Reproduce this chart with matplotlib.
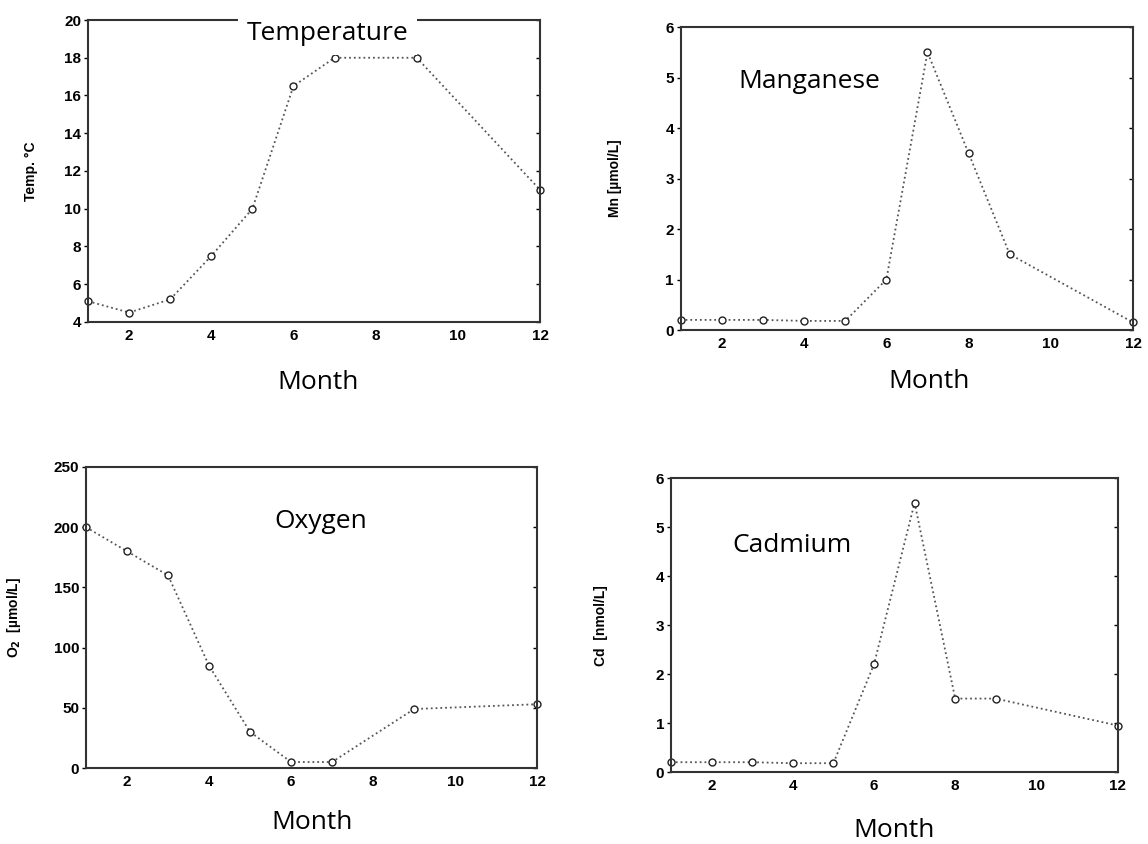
import matplotlib
matplotlib.use("Agg")
import matplotlib.pyplot as plt

# Data
temp_months = [1, 2, 3, 4, 5, 6, 7, 9, 12]
temp_values = [5.1, 4.5, 5.2, 7.5, 10.0, 16.5, 18.0, 18.0, 11.0]

mn_months = [1, 2, 3, 4, 5, 6, 7, 8, 9, 12]
mn_values = [0.2, 0.2, 0.2, 0.18, 0.18, 1.0, 5.5, 3.5, 1.5, 0.15]

o2_months = [1, 2, 3, 4, 5, 6, 7, 9, 12]
o2_values = [200, 180, 160, 85, 30, 5, 5, 49, 53]

cd_months = [1, 2, 3, 4, 5, 6, 7, 8, 9, 12]
cd_values = [0.2, 0.2, 0.2, 0.18, 0.18, 2.2, 5.5, 1.5, 1.5, 0.95]

x_ticks = [2, 4, 6, 8, 10, 12]

fig = plt.figure(figsize=(11.48, 8.44), dpi=100)
plt.rcParams['font.family'] = ['Liberation Sans', 'DejaVu Sans']

label_font = ['Open Sans', 'DejaVu Sans']


##
# One scanned-looking panel
##
def panel(rect, months, values, ylim, yticks, ylabel, ylabel_x, month_x=0.5, month_y=-0.2):
    ax = fig.add_axes(rect)
    ax.plot(months, values, linestyle=':', color='#555555', linewidth=1.3,
            marker='o', markersize=5, markerfacecolor='white',
            markeredgecolor='#222222', markeredgewidth=1.0, clip_on=False)
    ax.set_xlim(1, 12)
    ax.set_ylim(*ylim)
    ax.set_xticks(x_ticks)
    ax.set_yticks(yticks)
    ax.tick_params(axis='both', labelsize=11, width=1, length=3)
    ax.tick_params(axis='y', right=True, direction='out', pad=2)
    ax.tick_params(axis='x', direction='in', length=0, pad=5)
    for lab in ax.get_xticklabels() + ax.get_yticklabels():
        lab.set_fontweight('bold')
    for sp in ax.spines.values():
        sp.set_linewidth(1.5)
        sp.set_color('#333333')
    for t in ax.yaxis.get_major_ticks():
        t.tick2line.set_marker(matplotlib.lines.TICKLEFT)
    ax.set_ylabel(ylabel, fontsize=10, fontweight='bold')
    ax.yaxis.set_label_coords(ylabel_x, 0.5)
    ax.text(month_x, month_y, 'Month', transform=ax.transAxes, ha='center', va='center',
            fontsize=19, family=label_font)
    return ax


ax1 = panel([0.0767, 0.6185, 0.3937, 0.3578], temp_months, temp_values,
            (4, 20), [4, 6, 8, 10, 12, 14, 16, 18, 20], 'Temp. °C', -0.11, 0.51)
ax1.text(0.53, 0.955, 'Temperature', transform=ax1.transAxes, ha='center', va='center',
         fontsize=19, family=label_font,
         bbox=dict(facecolor='white', edgecolor='none', pad=6))

ax2 = panel([0.593, 0.609, 0.394, 0.359], mn_months, mn_values,
            (0, 6), [0, 1, 2, 3, 4, 5, 6], 'Mn [µmol/L]', -0.13, 0.55, -0.17)
ax2.text(0.285, 0.82, 'Manganese', transform=ax2.transAxes, ha='center', va='center',
         fontsize=19, family=label_font)

ax3 = panel([0.0749, 0.090, 0.393, 0.3567], o2_months, o2_values,
            (0, 250), [0, 50, 100, 150, 200, 250], 'O$_\\mathbf{2}$  [µmol/L]', -0.14,
            0.5, -0.18)
ax3.text(0.52, 0.82, 'Oxygen', transform=ax3.transAxes, ha='center', va='center',
         fontsize=19, family=label_font)

ax4 = panel([0.5845, 0.0853, 0.389, 0.348], cd_months, cd_values,
            (0, 6), [0, 1, 2, 3, 4, 5, 6], 'Cd  [nmol/L]', -0.14)
ax4.text(0.27, 0.77, 'Cadmium', transform=ax4.transAxes, ha='center', va='center',
         fontsize=19, family=label_font)

fig.savefig('out.png', dpi=100)
